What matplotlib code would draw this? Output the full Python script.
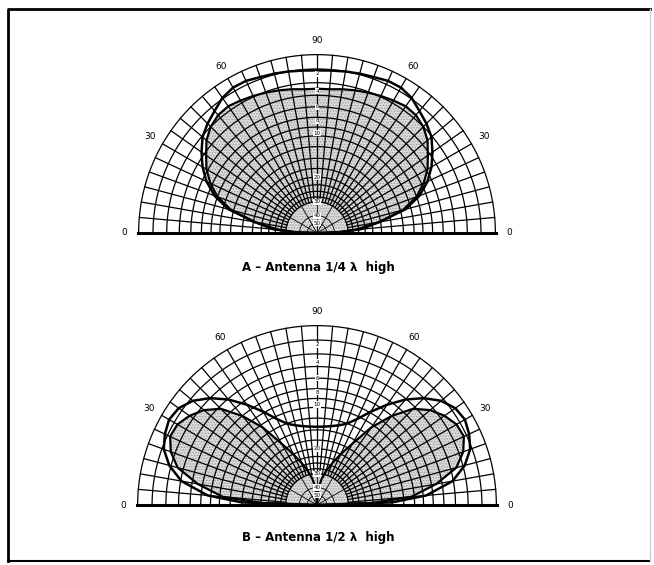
import numpy as np
import matplotlib
matplotlib.use("Agg")
import matplotlib.pyplot as plt
from matplotlib.lines import Line2D

# elevation angles (deg) and relative field in dB, one side of each symmetric pattern
elev = [0, 2, 5, 10, 15, 20, 25, 30, 35, 40, 45, 50, 55, 60, 65, 70, 75, 80, 85, 90]

quarter_outer_db = [-99, -35, -24, -18, -11.5, -8.5, -6.6, -5.2, -4.1, -3.1, -2.5,
                    -2.0, -1.4, -1.1, -1.1, -1.3, -1.4, -1.5, -1.6, -1.65]
quarter_inner_db = [-99, -37, -26, -17.5, -12, -9, -7.2, -5.8, -4.8, -3.7, -3.0,
                    -2.6, -2.5, -2.7, -2.9, -3.1, -3.3, -3.5, -3.7, -3.7]

half_outer_db = [-99, -15, -8.5, -4.6, -2.8, -1.7, -1.2, -0.9, -1.1, -1.8, -3.0,
                 -4.6, -6.6, -8.8, -11.0, -12.6, -13.4, -13.9, -14.2, -14.3]
half_inner_db = [-99, -20.5, -11, -6.8, -3.8, -2.5, -1.8, -1.9, -2.5, -3.4, -4.8,
                 -7.5, -11, -16, -20, -24, -28, -33, -40, -99]

# grid rings (dB) of the ARRL log chart and labels along the 90 deg axis
ring_db = [0, -1.5, -3, -4.5, -6, -7.5, -9, -10.5, -12.5, -15, -17.5, -20,
           -22.5, -25, -27.5, -30]
inner_ring_db = [-40, -50]
axis_label_db = [2, 4, 6, 8, 10, 20, 30, 40, 50]
angle_labels = [0, 30, 60, 90, 60, 30, 0]
angle_label_pos = [0, 30, 60, 90, 120, 150, 180]

titles = ["A \u2013 Antenna 1/4 \u03bb  high", "B \u2013 Antenna 1/2 \u03bb  high"]

plt.rcParams["hatch.color"] = "#9a9a9a"
plt.rcParams["hatch.linewidth"] = 0.6


def arrl(db):
    # ARRL log scale: radius shrinks by 0.89 for every 2 dB
    return 0.89 ** (-np.asarray(db, dtype=float) / 2)


def mirror(db):
    th = np.radians(np.concatenate([elev, 180 - np.array(elev[::-1])]))
    r = arrl(db)
    return th, np.concatenate([r, r[::-1]])


def chart(cx, cy, R, outer_db, inner_db):
    # a half-disc polar axes sits in the middle of a square box of side 2R
    rect = [(cx - R) / W, (H - cy - R / 2) / H, 2 * R / W, 2 * R / H]
    ax = fig.add_axes(rect, projection="polar")
    ax.set_thetamin(0)
    ax.set_thetamax(180)
    ax.set_ylim(0, 1)
    ax.set_axis_off()

    arc = np.linspace(0, np.pi, 361)
    r30 = arrl(-30)

    # stippled centre and filled pattern
    ax.fill(arc, np.full_like(arc, r30), facecolor="#dadada", hatch="......",
            lw=0, zorder=1)
    th, r = mirror(inner_db)
    ax.fill(th, r, facecolor="#dadada", hatch="......", lw=0, zorder=1)

    for db in ring_db:
        ax.plot(arc, np.full_like(arc, arrl(db)), color="k",
                lw=1.8 if db == 0 else 0.9, zorder=2)
    for db in inner_ring_db:
        ax.plot(arc, np.full_like(arc, arrl(db)), color="k", lw=0.6, zorder=2)
    for a in range(5, 180, 5):
        ax.plot([np.radians(a)] * 2, [r30, 1], color="k", lw=0.9, zorder=2)
    for a in range(30, 180, 30):
        ax.plot([np.radians(a)] * 2, [0, r30], color="k", lw=0.6, zorder=2)
    ax.plot([0, np.pi], [1, 1], color="k", lw=2.2, zorder=3, clip_on=False)

    ax.plot(th, r, color="k", lw=1.6, zorder=3)
    th, r = mirror(outer_db)
    ax.plot(th, r, color="k", lw=1.8, zorder=3)

    for v in axis_label_db:
        ax.text(np.pi / 2, arrl(-v), str(v), fontsize=4, ha="center",
                va="center", zorder=4,
                bbox=dict(boxstyle="square,pad=0.1", fc="white", ec="none"))
    for lab, pos in zip(angle_labels, angle_label_pos):
        ax.text(np.radians(pos), 1.075, str(lab), fontsize=6.5, ha="center",
                va="center")
    return ax


W, H = 654, 565
fig = plt.figure(figsize=(W / 100, H / 100), dpi=100)

chart(317, 233, 179, quarter_outer_db, quarter_inner_db)
chart(317, 505, 180, half_outer_db, half_inner_db)

fig.text(318 / W, 1 - 268 / H, titles[0], ha="center", va="center",
         fontsize=8.5, fontweight="bold")
fig.text(318 / W, 1 - 538 / H, titles[1], ha="center", va="center",
         fontsize=8.5, fontweight="bold")

# page frame
l, r_, t, b = 8 / W, 650 / W, 1 - 9 / H, 1 - 561 / H
fig.add_artist(Line2D([l, l, r_], [b, t, t], color="k", lw=2))
fig.add_artist(Line2D([l, r_], [b, b], color="k", lw=1.5))
fig.add_artist(Line2D([r_, r_], [b, t], color="#d0d0d0", lw=1))

fig.savefig("out.png", dpi=100)
